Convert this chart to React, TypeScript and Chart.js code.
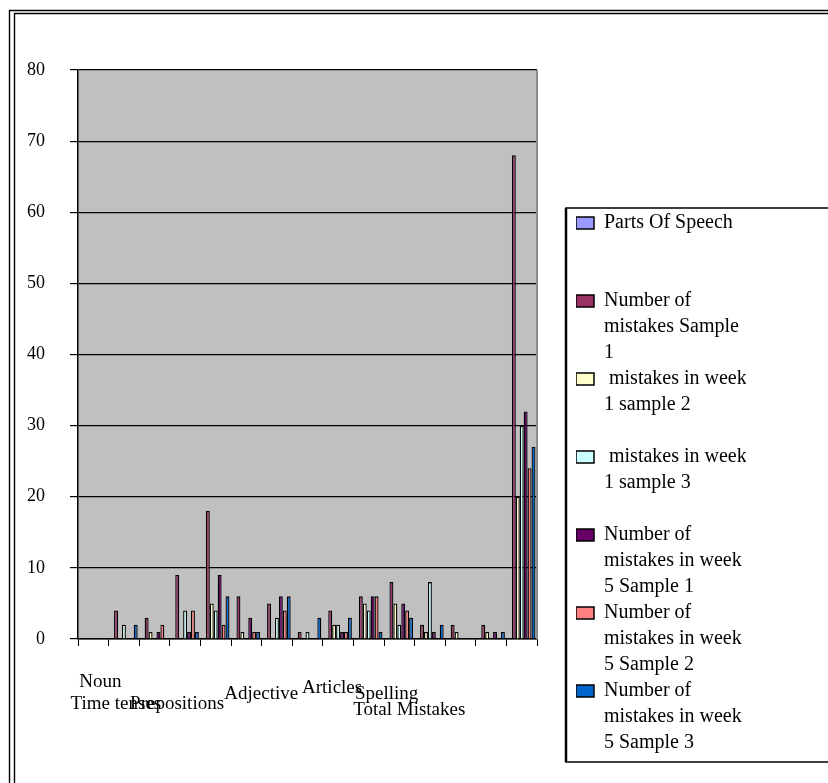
import React, { useEffect, useRef } from "react";
import { Chart, registerables } from "chart.js";

Chart.register(...registerables);

// ---------- data ----------
const categories = [
  "Noun", "Time tenses", "", "Prepositions", "", "Adjective", "", "",
  "Articles", "Spelling", "Total Mistakes", "", "", "", "",
];

const seriesNames = [
  "Parts Of Speech",
  "Number of mistakes Sample 1",
  " mistakes in week 1 sample 2",
  " mistakes in week 1 sample 3",
  "Number of mistakes in week 5 Sample 1",
  "Number of mistakes in week 5 Sample 2",
  "Number of mistakes in week 5 Sample 3",
];

const legendLines = [
  ["Parts Of Speech", "", ""],
  ["Number of", "mistakes Sample", "1"],
  [" mistakes in week", "1 sample 2", ""],
  [" mistakes in week", "1 sample 3", ""],
  ["Number of", "mistakes in week", "5 Sample 1"],
  ["Number of", "mistakes in week", "5 Sample 2"],
  ["Number of", "mistakes in week", "5 Sample 3"],
];

const partsOfSpeech = [0, 0, 0, 0, 0, 0, 0, 0, 0, 0, 0, 0, 0, 0, 0];
const sample1 = [0, 4, 3, 9, 18, 6, 5, 1, 4, 6, 8, 2, 2, 2, 68];
const week1Sample2 = [0, 0, 1, 0, 5, 1, 0, 0, 2, 5, 5, 1, 1, 1, 20];
const week1Sample3 = [0, 2, 0, 4, 4, 0, 3, 1, 2, 4, 2, 8, 0, 0, 30];
const week5Sample1 = [0, 0, 1, 1, 9, 3, 6, 0, 1, 6, 5, 1, 0, 1, 32];
const week5Sample2 = [0, 0, 2, 4, 2, 1, 4, 0, 1, 6, 4, 0, 0, 0, 24];
const week5Sample3 = [0, 2, 0, 1, 6, 1, 6, 3, 3, 1, 3, 2, 0, 1, 27];

const yMin = 0;
const yMax = 80;
const yStep = 10;

// ---------- styles ----------
const colors = ["#9999FF", "#993366", "#FFFFCC", "#CCFFFF", "#660066", "#FF8080", "#0066CC"];
const FONT = "'Liberation Serif', 'Times New Roman', serif";

// label placement (pixel offsets from category centre / axis top)
const labelPlacement: Record<number, [number, number]> = {
  0: [7, 48],
  1: [-8, 70],
  3: [-8, 70],
  5: [15, 60],
  8: [-6, 54],
  9: [18, 60],
  10: [10, 76],
};

const decorPlugin = {
  id: "decor",
  beforeDraw(chart: any) {
    const { ctx, chartArea: a, width, height } = chart;
    ctx.save();
    ctx.fillStyle = "#ffffff";
    ctx.fillRect(0, 0, width, height);
    ctx.strokeStyle = "#000";
    ctx.lineWidth = 1.4;
    ctx.beginPath();
    ctx.moveTo(9.5, height);
    ctx.lineTo(9.5, 10.5);
    ctx.lineTo(width, 10.5);
    ctx.moveTo(14.5, height);
    ctx.lineTo(14.5, 13.5);
    ctx.lineTo(width, 13.5);
    ctx.stroke();
    ctx.fillStyle = "#C0C0C0";
    ctx.fillRect(a.left, a.top, a.right - a.left, a.bottom - a.top);
    ctx.restore();
  },
  afterDraw(chart: any) {
    const { ctx, chartArea: a, width } = chart;
    ctx.save();
    // plot area right edge
    ctx.strokeStyle = "#8c8c8c";
    ctx.lineWidth = 2;
    ctx.beginPath();
    ctx.moveTo(a.right, a.top);
    ctx.lineTo(a.right, a.bottom);
    ctx.stroke();

    // legend frame
    const hb = chart.legend && chart.legend.legendHitBoxes;
    if (hb && hb.length) {
      const first = hb[0];
      const last = hb[hb.length - 1];
      const l = first.left - 10;
      const t = first.top - 5;
      const b = last.top + last.height + 3;
      ctx.strokeStyle = "#000";
      ctx.lineWidth = 1.5;
      ctx.strokeRect(l, t, width + 10 - l, b - t);
      ctx.lineWidth = 2.5;
      ctx.beginPath();
      ctx.moveTo(l, t);
      ctx.lineTo(l, b);
      ctx.stroke();
    }

    // category labels
    const xs = chart.scales.x;
    ctx.fillStyle = "#000";
    ctx.font = `19px ${FONT}`;
    ctx.textAlign = "center";
    ctx.textBaseline = "alphabetic";
    categories.forEach((c, i) => {
      if (!c) return;
      const p = labelPlacement[i] || [0, 50];
      ctx.fillText(c, xs.getPixelForValue(i) + p[0], xs.top + p[1]);
    });
    ctx.restore();
  },
};

export default function App() {
  const ref = useRef<HTMLCanvasElement | null>(null);

  useEffect(() => {
    if (!ref.current) return;
    const series = [partsOfSpeech, sample1, week1Sample2, week1Sample3, week5Sample1, week5Sample2, week5Sample3];
    const chart = new Chart(ref.current, {
      type: "bar",
      data: {
        labels: categories,
        datasets: series.map((d, i) => ({
          label: seriesNames[i],
          data: d,
          backgroundColor: colors[i],
          borderColor: "#000",
          borderWidth: 1.3,
          categoryPercentage: 0.9,
          barPercentage: 1,
        })),
      },
      options: {
        animation: false,
        responsive: true,
        maintainAspectRatio: false,
        layout: { padding: { top: 70, left: 0, right: 82, bottom: 24 } },
        plugins: {
          tooltip: { enabled: false },
          legend: {
            position: "right",
            align: "end",
            maxWidth: 170,
            labels: {
              boxWidth: 18,
              boxHeight: 12,
              padding: 0,
              color: "#000",
              font: { family: FONT, size: 20, lineHeight: 1.3 },
              generateLabels: (c: any) =>
                c.data.datasets.map((ds: any, i: number) => ({
                  text: legendLines[i],
                  fillStyle: ds.backgroundColor,
                  strokeStyle: "#000",
                  lineWidth: 1.5,
                  hidden: false,
                  datasetIndex: i,
                  fontColor: "#000",
                })),
            },
          },
        },
        scales: {
          x: {
            grid: {
              display: true,
              drawOnChartArea: false,
              drawTicks: true,
              tickLength: 7,
              color: "#000",
              lineWidth: 1,
              offset: true,
            },
            border: { display: true, color: "#000", width: 1.5 },
            ticks: { display: false },
            afterFit: (s: any) => {
              s.height = 120;
            },
          },
          y: {
            min: yMin,
            max: yMax,
            ticks: {
              stepSize: yStep,
              padding: 25,
              color: "#000",
              font: { family: FONT, size: 18 },
            },
            grid: { color: "#000", lineWidth: 1.2, tickLength: 8, drawTicks: true },
            border: { color: "#000", width: 1.5 },
            afterFit: (s: any) => {
              s.width = 78;
            },
          },
          y2: {
            type: "linear",
            position: "right",
            display: true,
            grid: { display: false },
            ticks: { display: false },
            border: { display: false },
            afterFit: (s: any) => {
              s.width = 39;
            },
          },
        },
      } as any,
      plugins: [decorPlugin],
    });
    return () => chart.destroy();
  }, []);

  return (
    <div style={{ position: "absolute", left: 0, top: 0, width: 828, height: 783 }}>
      <canvas ref={ref} />
    </div>
  );
}
